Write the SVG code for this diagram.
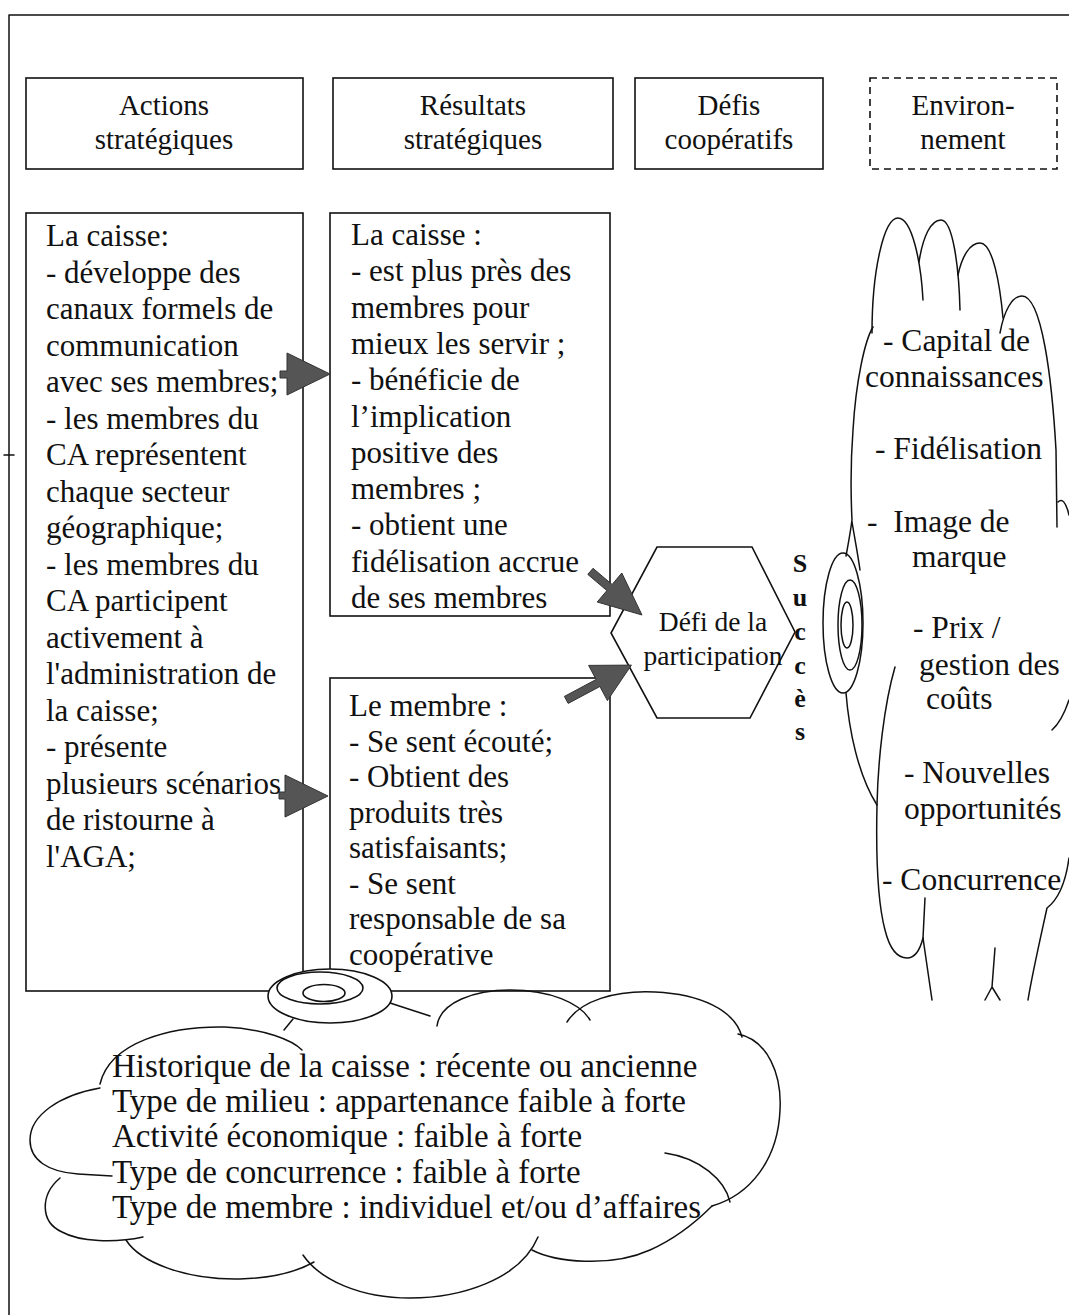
<svg xmlns="http://www.w3.org/2000/svg" width="1069" height="1315" viewBox="0 0 1069 1315">
<style>
  .box{fill:none;stroke:#111;stroke-width:1.6}
  .dash{fill:none;stroke:#111;stroke-width:1.6;stroke-dasharray:7 5}
  .t{font-family:"Liberation Serif","Times New Roman",serif;fill:#111}
  .hd{font-size:29px;text-anchor:middle}
  .bd{font-size:31px}
  .env{font-size:31.5px}
  .ctx{font-size:33px}
  .hex{font-size:27.5px;text-anchor:middle}
  .succ{font-size:26px;font-weight:bold;text-anchor:middle}
  .ln{fill:none;stroke:#111;stroke-width:1.5;stroke-linecap:round;stroke-linejoin:round}
  .arw{fill:#555;stroke:#333;stroke-width:1}
  .tail{fill:#fff;stroke:#111;stroke-width:1.6}
</style>
<rect width="1069" height="1315" fill="#fff"/>

<!-- page frame -->
<g id="frame">
  <path class="ln" d="M9,15 H1069 M9,15 V1315 M4,455 H14"/>
</g>

<!-- column headers -->
<g id="hdr-actions">
  <rect class="box" x="26" y="78" width="277" height="91"/>
  <text class="t hd" x="164" y="115">Actions</text>
  <text class="t hd" x="164" y="149">stratégiques</text>
</g>
<g id="hdr-resultats">
  <rect class="box" x="333" y="78" width="280" height="91"/>
  <text class="t hd" x="473" y="115">Résultats</text>
  <text class="t hd" x="473" y="149">stratégiques</text>
</g>
<g id="hdr-defis">
  <rect class="box" x="635" y="78" width="188" height="91"/>
  <text class="t hd" x="729" y="115">Défis</text>
  <text class="t hd" x="729" y="149">coopératifs</text>
</g>
<g id="hdr-environnement">
  <rect class="dash" x="870" y="78" width="187" height="91"/>
  <text class="t hd" x="963" y="115">Environ-</text>
  <text class="t hd" x="963" y="149">nement</text>
</g>

<!-- strategic actions -->
<g id="actions">
  <rect class="box" x="26" y="213" width="277" height="778"/>
  <text class="t bd" x="46" y="246">
    <tspan x="46">La caisse:</tspan>
    <tspan x="46" dy="36.5">- développe des</tspan>
    <tspan x="46" dy="36.5">canaux formels de</tspan>
    <tspan x="46" dy="36.5">communication</tspan>
    <tspan x="46" dy="36.5">avec ses membres;</tspan>
    <tspan x="46" dy="36.5">- les membres du</tspan>
    <tspan x="46" dy="36.5">CA représentent</tspan>
    <tspan x="46" dy="36.5">chaque secteur</tspan>
    <tspan x="46" dy="36.5">géographique;</tspan>
    <tspan x="46" dy="36.5">- les membres du</tspan>
    <tspan x="46" dy="36.5">CA participent</tspan>
    <tspan x="46" dy="36.5">activement à</tspan>
    <tspan x="46" dy="36.5">l'administration de</tspan>
    <tspan x="46" dy="36.5">la caisse;</tspan>
    <tspan x="46" dy="36.5">- présente</tspan>
    <tspan x="46" dy="36.5">plusieurs scénarios</tspan>
    <tspan x="46" dy="36.5">de ristourne à</tspan>
    <tspan x="46" dy="36.5">l'AGA;</tspan>
  </text>
</g>

<!-- results for the caisse -->
<g id="resultats-caisse">
  <rect class="box" x="330" y="213" width="280" height="403"/>
  <text class="t bd" x="351" y="245">
    <tspan x="351">La caisse :</tspan>
    <tspan x="351" dy="36.3">- est plus près des</tspan>
    <tspan x="351" dy="36.3">membres pour</tspan>
    <tspan x="351" dy="36.3">mieux les servir ;</tspan>
    <tspan x="351" dy="36.3">- bénéficie de</tspan>
    <tspan x="351" dy="36.3">l’implication</tspan>
    <tspan x="351" dy="36.3">positive des</tspan>
    <tspan x="351" dy="36.3">membres ;</tspan>
    <tspan x="351" dy="36.3">- obtient une</tspan>
    <tspan x="351" dy="36.3">fidélisation accrue</tspan>
    <tspan x="351" dy="36.3">de ses membres</tspan>
  </text>
</g>

<!-- results for the member -->
<g id="resultats-membre">
  <rect class="box" x="330" y="678" width="280" height="313"/>
  <text class="t bd" x="349" y="716">
    <tspan x="349">Le membre :</tspan>
    <tspan x="349" dy="35.5">- Se sent écouté;</tspan>
    <tspan x="349" dy="35.5">- Obtient des</tspan>
    <tspan x="349" dy="35.5">produits très</tspan>
    <tspan x="349" dy="35.5">satisfaisants;</tspan>
    <tspan x="349" dy="35.5">- Se sent</tspan>
    <tspan x="349" dy="35.5">responsable de sa</tspan>
    <tspan x="349" dy="35.5">coopérative</tspan>
  </text>
</g>

<!-- cooperative challenge -->
<g id="defi-participation">
  <polygon class="box" points="657,547 752,547 795,632 750,718 657,718 611,633"/>
  <text class="t hex" x="713" y="631">Défi de la</text>
  <text class="t hex" x="713" y="665">participation</text>
</g>

<g id="succes">
  <text class="t succ" x="800" y="572">S</text>
  <text class="t succ" x="800" y="606">u</text>
  <text class="t succ" x="800" y="640">c</text>
  <text class="t succ" x="800" y="674">c</text>
  <text class="t succ" x="800" y="707">è</text>
  <text class="t succ" x="800" y="740">s</text>
</g>

<!-- environment cloud -->
<g id="environnement">
  <path class="ln" d="M872,333 C872,270 884,218 898,218 C912,218 921,262 923,300"/>
  <path class="ln" d="M919,262 C923,236 931,220 941,220 C953,220 959,268 960,310"/>
  <path class="ln" d="M958,275 C962,256 970,243 980,243 C993,243 1000,285 1003,318"/>
  <path class="ln" d="M1000,333 C1004,311 1012,296 1022,296 C1042,296 1052,380 1056,450 L1057,527"/>
  <path class="ln" d="M1058,502 C1062,498 1066,502 1069,515"/>
  <path class="ln" d="M873,327 C865,340 856,380 853,430 C850,470 851,500 852,520 C850,535 848,545 846,556"/>
  <path class="ln" d="M852,522 C855,540 858,555 860,570"/>
  <ellipse class="ln" cx="843" cy="623" rx="20" ry="70"/>
  <ellipse class="ln" cx="850" cy="625" rx="12" ry="45"/>
  <ellipse class="ln" cx="847" cy="625" rx="6" ry="23"/>
  <path class="ln" d="M846,693 C849,730 858,775 877,805"/>
  <path class="ln" d="M895,667 C884,705 878,760 877,805 C876,850 877,900 885,930 C890,950 898,958 907,958 C915,958 920,950 923,938"/>
  <path class="ln" d="M925,898 L923,938 L932,1000"/>
  <path class="ln" d="M1069,700 C1065,712 1060,723 1052,730"/>
  <path class="ln" d="M1069,858 C1066,880 1060,898 1047,908 C1040,940 1032,975 1028,1000"/>
  <path class="ln" d="M995,948 L992,987 L985,1000 M992,987 L1000,1000"/>
  <g class="t env">
    <text x="883" y="351">- Capital de</text>
    <text x="865" y="387">connaissances</text>
    <text x="875" y="459">- Fidélisation</text>
    <text x="867" y="532" xml:space="preserve">-  Image de</text>
    <text x="912" y="567">marque</text>
    <text x="913" y="638">- Prix /</text>
    <text x="919" y="675">gestion des</text>
    <text x="926" y="709">coûts</text>
    <text x="904" y="783">- Nouvelles</text>
    <text x="904" y="819">opportunités</text>
    <text x="882" y="890">- Concurrence</text>
  </g>
</g>

<!-- context cloud -->
<g id="contexte">
  <path class="ln" d="M100,1084 C110,1042 170,1026 225,1027 C265,1029 292,1040 302,1050"/>
  <path class="ln" d="M284,1030 L293,1019"/>
  <path class="ln" d="M390,1003 L430,1016"/>
  <path class="ln" d="M437,1026 C440,1002 475,990 510,990 C550,990 580,1003 590,1020"/>
  <path class="ln" d="M567,1022 C580,1001 615,990 655,992 C700,994 735,1010 742,1037"/>
  <path class="ln" d="M738,1034 C768,1040 782,1075 780,1110 C778,1160 750,1195 712,1206"/>
  <path class="ln" d="M665,1153 C700,1158 725,1180 730,1202"/>
  <path class="ln" d="M100,1088 C60,1095 30,1115 30,1140 C30,1160 48,1172 78,1174 L112,1176"/>
  <path class="ln" d="M60,1178 C40,1195 40,1222 62,1232 C80,1242 115,1243 143,1237"/>
  <path class="ln" d="M126,1240 C140,1262 185,1280 240,1279 C275,1278 300,1270 314,1262"/>
  <path class="ln" d="M303,1255 C320,1280 360,1298 410,1298 C460,1298 520,1280 538,1237"/>
  <path class="ln" d="M532,1250 C555,1262 610,1268 650,1250 C668,1242 690,1228 712,1206"/>
  <ellipse class="tail" cx="330" cy="996" rx="62" ry="27"/>
  <ellipse class="tail" cx="320" cy="988" rx="43" ry="16"/>
  <ellipse class="tail" cx="324" cy="993" rx="21" ry="8.5"/>
  <g class="t ctx">
    <text x="112" y="1077">Historique de la caisse : récente ou ancienne</text>
    <text x="112" y="1112">Type de milieu : appartenance faible à forte</text>
    <text x="112" y="1147">Activité économique : faible à forte</text>
    <text x="112" y="1183">Type de concurrence : faible à forte</text>
    <text x="112" y="1218">Type de membre : individuel et/ou d’affaires</text>
  </g>
</g>

<!-- connectors -->
<g id="connectors">
  <polygon class="arw" points="280,371 287,371 287,353 330,374 287,395 287,378 280,378"/>
  <polygon class="arw" points="279,792 285,792 285,775 328,796 285,817 285,799 279,799"/>
  <polygon class="arw" points="587.8,574.4 606.9,590.6 597.2,602 642,615 621.8,573 612.1,584.5 593,568.3"/>
  <polygon class="arw" points="568.2,703.4 599.9,686.5 607.4,700.6 631.4,665.1 588.6,665.4 596.1,679.5 564.4,696.4"/>
</g>
</svg>
